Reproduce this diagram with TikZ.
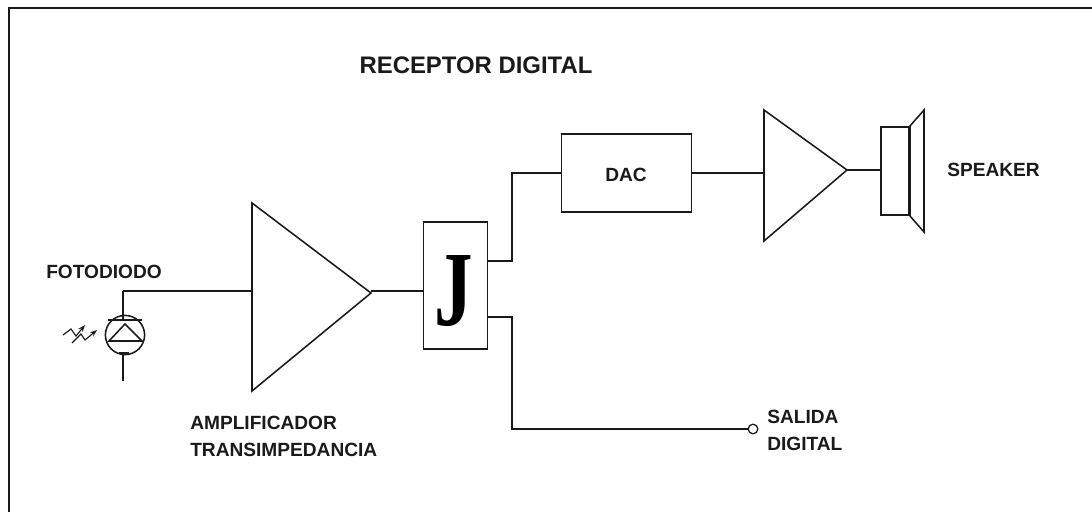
\documentclass[tikz,border=0pt]{standalone}
\usepackage{fontspec}
\setmainfont{Liberation Sans}
\newfontfamily\jfont{Liberation Serif}
\usetikzlibrary{positioning, arrows.meta, calc}
\definecolor{wireblack}{HTML}{1A1A1A}

\begin{document}
\begin{tikzpicture}[
    x=0.025cm, y=-0.025cm,
    wire/.style={draw=wireblack, line width=1.1pt},
    block/.style={
        draw=wireblack, fill=white, line width=1.1pt, inner sep=0pt
    },
    lbl/.style={
        font=\fontsize{13.6}{19}\selectfont\bfseries, text=wireblack, align=left, inner sep=0pt
    }
]
\useasboundingbox (0, 0) rectangle (1092, 512);

% Frame
\draw[wire] (9, 512) -- (9, 8) -- (1092, 8);

% Title
\node[lbl, font=\fontsize{17}{20}\selectfont\bfseries] (title) at (476, 65) {RECEPTOR DIGITAL};

% Amplifiers
\draw[wire] (252, 203) -- (371, 293) -- (252, 391) -- cycle;
\coordinate (amp1in) at (252, 291);
\coordinate (amp1out) at (371, 291);
\draw[wire] (764, 110) -- (847, 170) -- (764, 241) -- cycle;
\coordinate (amp2in) at (764, 173);
\coordinate (amp2out) at (847, 170);

% Blocks
\node[block, minimum width=1.6cm, minimum height=3.17cm] (jblock) at (455.5, 285.5) {};
\node[font=\fontsize{76}{76}\jfont\bfseries, xscale=0.72, inner sep=0pt] (jletter) at (454, 291) {J};
\node[block, minimum width=3.25cm, minimum height=1.95cm] (dac) at (626.5, 173) {};
\node[lbl] (daclbl) at (626, 175) {DAC};

% Speaker
\node[block, minimum width=0.7cm, minimum height=2.2cm] (spk) at (895, 171) {};
\draw[wire, line width=2.2pt] (spk.north east) -- (spk.south east);
\draw[wire] (spk.north east) -- (924, 110) -- (924, 232) -- (spk.south east);

% Photodiode
\node[draw=wireblack, line width=1.1pt, circle, minimum size=0.98cm, inner sep=0pt] (diode) at (125, 335) {};
\draw[wire] (109, 341) -- (125, 324) -- (142, 341) -- cycle;
\draw[wire] (108, 320) -- (142, 320);
\coordinate (diodetop) at (123, 291);
\coordinate (diodebot) at (123, 381);
\draw[wire] (123, 320) -- (diodetop);
\draw[wire] (123, 353) -- (diodebot);
\draw[wire] (119, 353) -- (129, 353);
% Light arrows
\draw[wire, line width=0.8pt, -{Stealth[length=5pt]}] (63, 335) -- (71, 329) -- (76, 336) -- (85, 325);
\draw[wire, line width=0.8pt, -{Stealth[length=5pt]}] (72, 343) -- (81, 334) -- (85, 340) -- (97, 330);

% Connections
\draw[wire] (diodetop) -- (amp1in);
\draw[wire] (amp1out) -- (jblock.west |- amp1out);
\coordinate (jup) at (512, 261);
\coordinate (jdown) at (512, 317);
\draw[wire] (jup -| jblock.east) -- (jup) -- (512, 173) -- (dac.west);
\draw[wire] (jdown -| jblock.east) -- (jdown) -- (512, 429) -- (748, 429);
\node[draw=wireblack, fill=white, line width=0.9pt, circle, minimum size=0.24cm, inner sep=0pt] (salida) at (753, 429) {};
\draw[wire] (dac.east) -- (amp2in);
\draw[wire] (amp2out) -- (amp2out -| spk.west);

% Labels
\node[lbl, anchor=west] (fotolbl) at (46, 272) {FOTODIODO};
\node[lbl, anchor=north west] (amplbl) at (190, 416) {AMPLIFICADOR\\TRANSIMPEDANCIA};
\node[lbl, anchor=north west] (sallbl) at (767, 410) {SALIDA\\DIGITAL};
\node[lbl, anchor=west] (spklbl) at (947, 170) {SPEAKER};

\end{tikzpicture}
\end{document}
